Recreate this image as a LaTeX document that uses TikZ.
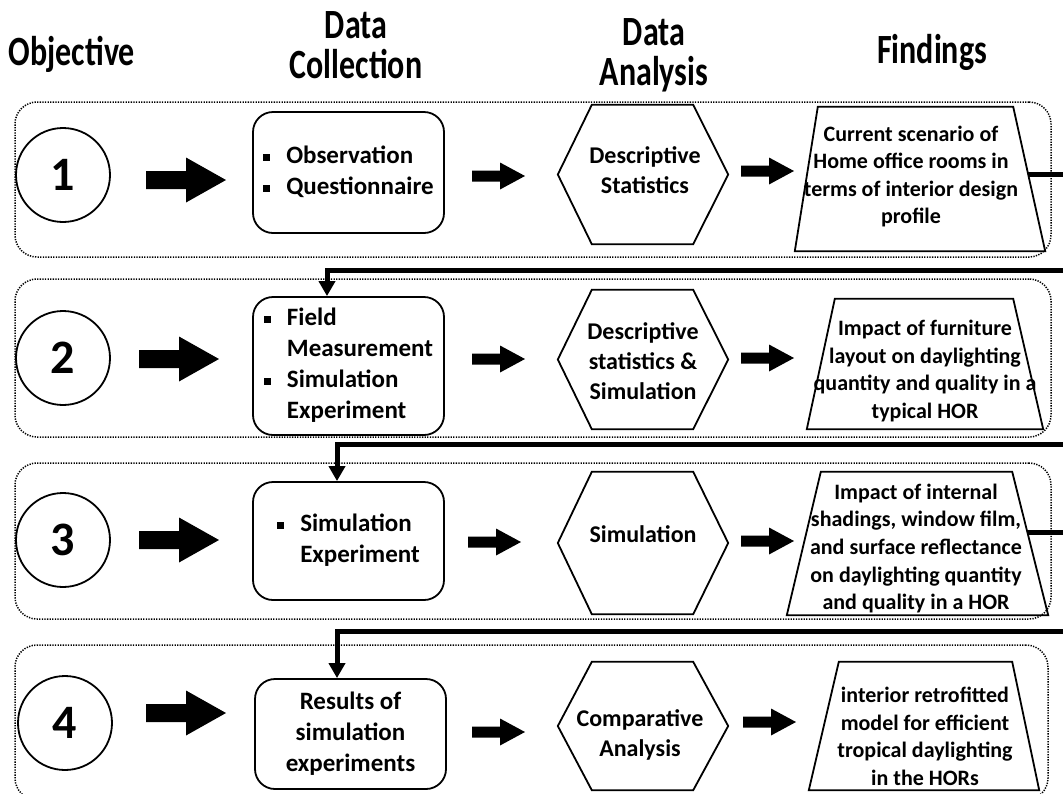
\documentclass[tikz,border=0pt]{standalone}
\usepackage{graphicx}
\usepackage{fontspec}
\setmainfont{Carlito}
\usetikzlibrary{calc,arrows.meta}
\newcommand\sqb{\rule[2.5pt]{7pt}{7pt}}
\newcommand\tallhead[1]{\scalebox{1}[1.3]{#1}}
\newcommand\hexdraw[3]{\draw[shp] (#1.west) -- ([xshift=#2]#1.north west) -- ([xshift=-#3]#1.north east) -- (#1.east) -- ([xshift=-#3]#1.south east) -- ([xshift=#2]#1.south west) -- cycle;}
\newcommand\trapdraw[3]{\draw[shp] (#1.south west) -- ([xshift=#2]#1.north west) -- ([xshift=-#3]#1.north east) -- (#1.south east) -- cycle;}
\newcommand\barrow[6]{\fill (#1,#2-#5) -- (#1+#3-#4,#2-#5) -- (#1+#3-#4,#2-#6) -- (#1+#3,#2) -- (#1+#3-#4,#2+#6) -- (#1+#3-#4,#2+#5) -- (#1,#2+#5) -- cycle;}
\begin{document}
\begin{tikzpicture}[x=1pt,y=-1pt,
  head/.style={font=\fontsize{32}{36}\selectfont\bfseries, anchor=base, inner sep=0},
  group/.style={draw, dash pattern=on 1.3pt off 1.3pt, line width=1.5pt, rounded corners=22pt, inner sep=0},
  circ/.style={circle, draw, line width=1.8pt, minimum size=94pt, inner sep=0, font=\fontsize{48}{50}\selectfont\bfseries},
  rbox/.style={draw, rounded corners=20pt, line width=1.8pt, minimum width=191pt, inner sep=0, font=\fontsize{25}{31}\selectfont\bfseries, align=center},
  frame/.style={inner sep=0},
  shp/.style={line width=1.8pt, line join=miter},
  hextxt/.style={font=\fontsize{24}{30}\selectfont\bfseries, align=center, inner sep=0},
  traptxt/.style={font=\fontsize{22}{27.6}\selectfont\bfseries, align=center, inner sep=0},
  conn/.style={line width=5pt},
  tip/.style={-{Triangle[width=16pt,length=15pt]}}
]
\fill[white] (0,0) rectangle (1063,793);
\useasboundingbox (0,0) rectangle (1063,793);

% headings
\node[head] (hobj) at (72,65) {\tallhead{Objective}};
\node[head] (hdc1) at (356,38) {\tallhead{Data}};
\node[head] (hdc2) at (356,78) {\tallhead{Collection}};
\node[head] (hda1) at (654,45) {\tallhead{Data}};
\node[head] (hda2) at (654,85) {\tallhead{Analysis}};
\node[head] (hfi) at (932,63) {\tallhead{Findings}};

% groups
\node[group, minimum width=1036pt, minimum height=155pt] (g1) at (533,179.5) {};
\node[group, minimum width=1036pt, minimum height=158pt] (g2) at (533,358) {};
\node[group, minimum width=1036pt, minimum height=156pt] (g3) at (533,541) {};
\node[group, minimum width=1033pt, minimum height=155pt] (g4) at (531.5,722.5) {};

% objectives
\node[circ] (o1) at (63,175) {1};
\node[circ] (o2) at (63,358) {2};
\node[circ] (o3) at (63,540) {3};
\node[circ] (o4) at (65,723) {4};

% data collection
\node[rbox, minimum height=121pt] (b1) at (348.5,172.5) {\begin{tabular}{@{}l@{\hspace{16pt}}l@{}}\sqb & Observation\\ \sqb & Questionnaire\end{tabular}};
\node[rbox, minimum height=138pt] (b2) at (348.5,366) {\begin{tabular}{@{}l@{\hspace{16pt}}l@{}}\sqb & Field\\ & Measurement\\ \sqb & Simulation\\ & Experiment\end{tabular}};
\node[rbox, minimum height=118pt] (b3) at (348.5,541) {\begin{tabular}{@{}l@{\hspace{16pt}}l@{}}\sqb & Simulation\\ & Experiment\end{tabular}};
\node[rbox, minimum height=110pt] (b4) at (350.5,734) {Results of\\simulation\\experiments};

% data analysis hexagons
\node[frame, minimum width=170pt, minimum height=139pt] (h1) at (643,174.5) {};
\hexdraw{h1}{34pt}{35pt}
\node[hextxt] (h1t) at (645,170) {Descriptive\\Statistics};
\node[frame, minimum width=170pt, minimum height=139pt] (h2) at (643,359.5) {};
\hexdraw{h2}{34pt}{35pt}
\node[hextxt] (h2t) at (643,361) {Descriptive\\statistics \&\\Simulation};
\node[frame, minimum width=170pt, minimum height=142pt] (h3) at (643,543) {};
\hexdraw{h3}{34pt}{35pt}
\node[hextxt] (h3t) at (643,534) {Simulation};
\node[frame, minimum width=170pt, minimum height=128pt] (h4) at (643,726) {};
\hexdraw{h4}{34pt}{35pt}
\node[hextxt] (h4t) at (640,734.5) {Comparative\\Analysis};

% findings trapezoids
\node[frame, minimum width=250pt, minimum height=144pt] (f1) at (920,179) {};
\trapdraw{f1}{23pt}{32pt}
\node[traptxt] (f1t) at (911,176.5) {Current scenario of\\Home office rooms in\\terms of interior design\\profile};
\node[frame, minimum width=236pt, minimum height=130pt] (f2) at (925,364) {};
\trapdraw{f2}{28pt}{30pt}
\node[traptxt] (f2t) at (925,371) {Impact of furniture\\layout on daylighting\\quantity and quality in a\\typical HOR};
\node[frame, minimum width=261pt, minimum height=143pt] (f3) at (917.5,543.5) {};
\trapdraw{f3}{34pt}{36pt}
\node[traptxt] (f3t) at (916,548.5) {Impact of internal\\shadings, window film,\\and surface reflectance\\on daylighting quantity\\and quality in a HOR};
\node[frame, minimum width=230pt, minimum height=128pt] (f4) at (924,726) {};
\trapdraw{f4}{30pt}{27pt}
\node[traptxt] (f4t) at (925,736.5) {interior retrofitted\\model for efficient\\tropical daylighting\\in the HORs};

% block arrows
\barrow{146}{180}{80}{40}{9}{22.5}
\barrow{139}{359}{80}{40}{9}{22.5}
\barrow{139}{540}{80}{40}{9}{22.5}
\barrow{146}{713}{80}{40}{9}{22.5}
\barrow{472}{176}{53}{25}{5.5}{13.5}
\barrow{472}{359}{53}{25}{5.5}{13.5}
\barrow{468}{542}{53}{25}{5.5}{13.5}
\barrow{472}{732}{53}{25}{5.5}{13.5}
\barrow{741}{171}{53}{25}{5.5}{13.5}
\barrow{741}{358}{53}{25}{5.5}{13.5}
\barrow{741}{541}{53}{25}{5.5}{13.5}
\barrow{743}{722}{53}{25}{5.5}{13.5}

% connectors
\coordinate (f1out) at ($([xshift=-32pt]f1.north east)!0.472!(f1.south east)$);
\coordinate (f3out) at ($([xshift=-36pt]f3.north east)!0.42!(f3.south east)$);
\coordinate (k1) at (1065,270);
\coordinate (k1b) at (327,270);
\coordinate (k2) at (1065,444);
\coordinate (k2b) at (337,444);
\coordinate (k3) at (1065,631);
\coordinate (k3b) at (337,631);
\draw[conn, tip] (f1out) -- (f1out -| k1) -- (k1) -- (k1b) -- (k1b |- b2.north);
\draw[conn, tip] (k1) -- (k2) -- (k2b) -- (k2b |- b3.north);
\draw[conn] (k2) -- (f3out -| k2);
\draw[conn, tip] (f3out) -- (f3out -| k3) -- (k3) -- (k3b) -- (k3b |- b4.north);
\end{tikzpicture}
\end{document}
